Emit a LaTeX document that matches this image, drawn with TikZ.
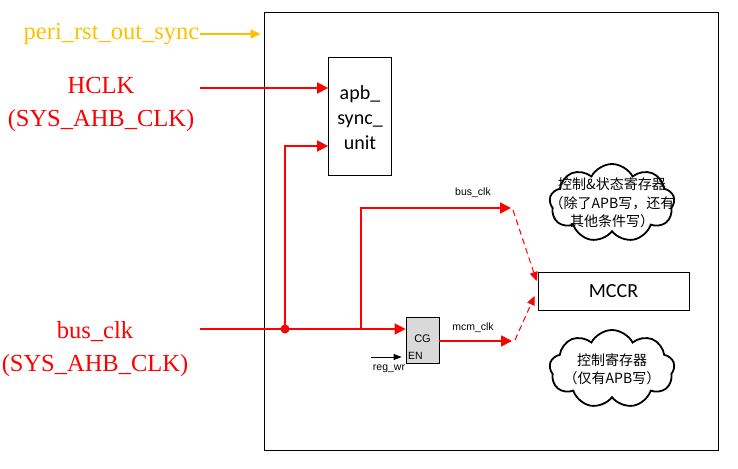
\documentclass[tikz,border=0pt]{standalone}
\usepackage{fontspec}
\setmainfont{Liberation Serif}
\newfontfamily\calfont{Carlito}
\newfontfamily\arialfont{Liberation Sans}
\newfontfamily\cjkfont{Noto Sans CJK SC}
\usetikzlibrary{arrows.meta,shapes.symbols}
\definecolor{sigred}{RGB}{255,0,0}
\definecolor{rstorange}{RGB}{255,192,0}
\definecolor{cggray}{RGB}{217,217,217}
\begin{document}
\begin{tikzpicture}[x=1pt,y=-1pt,
  sig/.style={draw=sigred,line width=1.6pt},
  sigarrow/.style={sig,-{Triangle[length=11pt,width=11pt]}},
  dasharrow/.style={draw=sigred,line width=1pt,dash pattern=on 6pt off 4pt,-{Triangle[length=9pt,width=8pt]}},
  bigtxt/.style={font=\fontsize{24.5}{33}\selectfont,inner sep=0,align=center},
  smalltxt/.style={font=\arialfont\fontsize{10.5}{12}\selectfont,inner sep=0},
  blk/.style={draw,line width=0.8pt,inner sep=0},
  cloudbox/.style={cloud,draw,line width=1.8pt,cloud puffs=9,cloud puff arc=125,aspect=1.6,minimum width=125pt,minimum height=78pt,inner sep=0},
  cjktxt/.style={font=\cjkfont\fontsize{14}{18.5}\selectfont,align=center,inner sep=0}]
\useasboundingbox (0,0) rectangle (738,468);
% outer block
\node[blk,minimum width=454pt,minimum height=438pt] (outer) at (491,231) {};
% reset input
\node[bigtxt,text=rstorange] (peri) at (111.5,34) {peri\_rst\_out\_sync};
\coordinate (perie) at (200,34);
\draw[draw=rstorange,line width=1.2pt,-{Triangle[length=10pt,width=9pt]},shorten >=3pt] (perie) -- (outer.west |- perie);
% HCLK
\node[bigtxt,text=sigred] (hclk) at (101,104) {HCLK\\(SYS\_AHB\_CLK)};
\node[blk,minimum width=63pt,minimum height=118pt] (apb) at (360,116) {};
\node[font=\calfont\fontsize{20}{25}\selectfont,align=center,inner sep=0] (apbt) at (360,118) {apb\_\\sync\_\\unit};
\coordinate (hclke) at (200,88);
\draw[sigarrow] (hclke) -- (hclke -| apb.west);
% bus_clk
\node[bigtxt,text=sigred] (busl) at (95,349) {bus\_clk\\(SYS\_AHB\_CLK)};
\node[blk,fill=cggray,minimum width=33pt,minimum height=46pt] (cg) at (422.5,340) {};
\node[smalltxt,font=\arialfont\fontsize{11}{12}\selectfont] (cgt) at (422.5,339) {CG};
\node[smalltxt,font=\arialfont\fontsize{10.5}{12}\selectfont] (ent) at (415.5,356) {EN};
\coordinate (buse) at (200,329);
\coordinate (j1) at (285,329);
\coordinate (j2) at (361,329);
\coordinate (a2) at (0,146);
\draw[sigarrow] (buse) -- (buse -| cg.west);
\fill[sigred] (j1) circle (4.5pt);
\draw[sigarrow] (j1) |- (apb.west |- a2);
\coordinate (bt) at (511,208);
\draw[sigarrow] (j2) |- (bt);
\fill[sigred] (j2 |- bt) circle (1.2pt);
\node[smalltxt] (buslab) at (473,193) {bus\_clk};
\coordinate (mt) at (512,341);
\draw[sigarrow] (cg.east |- mt) -- (mt);
\node[smalltxt] (mcmlab) at (473,328) {mcm\_clk};
% reg_wr
\coordinate (rw) at (371,357);
\draw[line width=0.8pt,-{Triangle[length=8pt,width=6pt]},shorten >=4pt] (rw) -- (rw -| cg.west);
\node[smalltxt] (rwlab) at (389,369) {reg\_wr};
% MCCR
\node[blk,minimum width=151pt,minimum height=38pt,font=\calfont\fontsize{20}{24}\selectfont] (mccr) at (613.5,291) {MCCR};
\coordinate (d1s) at (513,210);
\coordinate (d2s) at (515,340);
\draw[dasharrow] (d1s) -- ([yshift=10pt,xshift=-1pt]mccr.west);
\draw[dasharrow] (d2s) -- ([yshift=-5pt,xshift=-3pt]mccr.west);
% clouds
\node[cloudbox] (c1) at (612,203) {};
\node[cjktxt] (c1t) at (612,203) {控制\&状态寄存器\\（除了APB写，还有\\其他条件写）};
\node[cloudbox] (c2) at (612,369) {};
\node[cjktxt] (c2t) at (612,369) {控制寄存器\\（仅有APB写）};
\end{tikzpicture}
\end{document}
